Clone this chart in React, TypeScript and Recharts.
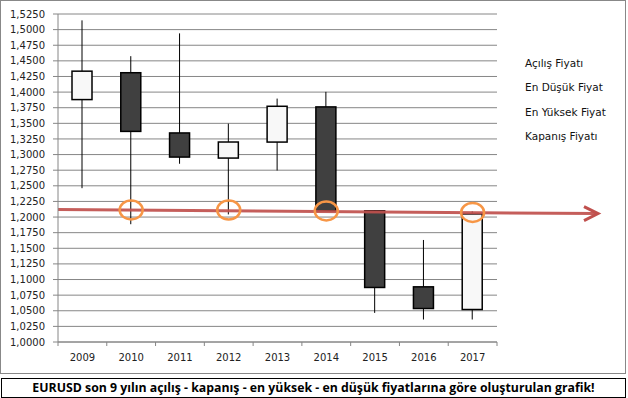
import React from 'react'
import { ComposedChart, Bar, XAxis, YAxis, CartesianGrid, ReferenceLine, ReferenceDot } from 'recharts'

const years = ['2009', '2010', '2011', '2012', '2013', '2014', '2015', '2016', '2017']
const openPrices = [1.388, 1.431, 1.3346, 1.2944, 1.32, 1.3763, 1.21, 1.0883, 1.052]
const highPrices = [1.5148, 1.4575, 1.494, 1.3495, 1.3896, 1.4004, 1.211, 1.1633, 1.209]
const lowPrices = [1.2462, 1.1885, 1.2853, 1.2042, 1.2745, 1.21, 1.0466, 1.036, 1.036]
const closePrices = [1.4335, 1.3371, 1.296, 1.3201, 1.3773, 1.21, 1.0873, 1.0536, 1.205]

const yTicks = [
  1.0, 1.025, 1.05, 1.075, 1.1, 1.125, 1.15, 1.175, 1.2, 1.225, 1.25,
  1.275, 1.3, 1.325, 1.35, 1.375, 1.4, 1.425, 1.45, 1.475, 1.5, 1.525,
]

const legendLabels = ['Açılış Fiyatı', 'En Düşük Fiyat', 'En Yüksek Fiyat', 'Kapanış Fiyatı']

// support level marked on the chart
const supportLevel = 1.2095
const markedYears = ['2010', '2012', '2014', '2017']
const markedLevels = [1.2114, 1.2112, 1.2098, 1.2074]

const data = years.map((year, i) => ({
  year,
  open: openPrices[i],
  high: highPrices[i],
  low: lowPrices[i],
  close: closePrices[i],
}))

const FONT = '"DejaVu Sans", Verdana, sans-serif'

const Candle = (props: any) => {
  const { x, y, width, height, payload } = props
  const top = Math.min(y, y + height)
  const h = Math.abs(height)
  const ratio = h / (payload.high - payload.low)
  const yOf = (v: number) => top + (payload.high - v) * ratio
  const up = payload.close >= payload.open
  const boxTop = yOf(Math.max(payload.open, payload.close))
  const boxBottom = yOf(Math.min(payload.open, payload.close))
  const cx = x + width / 2
  return (
    <g>
      <line x1={cx} x2={cx} y1={top} y2={top + h} stroke="#000" strokeWidth={1} />
      <rect
        x={x}
        y={boxTop}
        width={width}
        height={Math.max(boxBottom - boxTop, 1)}
        fill={up ? '#f8f8f8' : '#404040'}
        stroke="#000"
        strokeWidth={1.5}
      />
    </g>
  )
}

const YearTick = (props: any) => {
  const { x, y, payload, index } = props
  const half = payload.offset || 439 / 18
  const axisY = y - 12
  return (
    <g>
      <line x1={x - half} x2={x - half} y1={axisY} y2={axisY + 4} stroke="#868686" />
      {index === years.length - 1 && (
        <line x1={x + half} x2={x + half} y1={axisY} y2={axisY + 4} stroke="#868686" />
      )}
      <text x={x} y={y} dy="0.71em" textAnchor="middle" fill="#222" fontSize={10} fontFamily={FONT}>
        {payload.value}
      </text>
    </g>
  )
}

const Arrow = (props: any) => {
  const { x1, y1 } = props
  const endX = 597
  const endY = y1 + 2.5
  return (
    <g>
      <path d={`M${x1},${y1 - 1.5} L${endX - 1},${endY}`} stroke="#c0504d" strokeWidth={3} fill="none" opacity={0.92} />
      <path
        d={`M${endX - 14},${endY - 7} L${endX},${endY} L${endX - 14},${endY + 7}`}
        stroke="#c0504d"
        strokeWidth={3}
        fill="none"
      />
    </g>
  )
}

const Ring = (props: any) => {
  const { cx, cy } = props
  return <ellipse cx={cx} cy={cy} rx={11.5} ry={9.5} fill="none" stroke="#f79646" strokeWidth={2.5} />
}

export default function App() {
  return (
    <div style={{ position: 'absolute', left: 0, top: 0, width: 628, height: 398, background: '#fff' }}>
      <div
        style={{
          position: 'absolute',
          left: 0,
          top: 0,
          width: 626,
          height: 374,
          border: '1px solid #888',
          boxSizing: 'border-box',
        }}
      >
        <ComposedChart
          width={624}
          height={372}
          data={data}
          margin={{ top: 13, right: 128, left: 0, bottom: 0 }}
        >
          <CartesianGrid vertical={false} stroke="#868686" strokeWidth={1} />
          <XAxis
            dataKey="year"
            height={31}
            axisLine={{ stroke: '#868686' }}
            tickLine={false}
            tickSize={0}
            tickMargin={12}
            tick={<YearTick />}
            interval={0}
          />
          <YAxis
            width={57}
            domain={[1, 1.525]}
            ticks={yTicks}
            interval={0}
            axisLine={{ stroke: '#868686' }}
            tickLine={{ stroke: '#868686' }}
            tickSize={5}
            tickMargin={8}
            tickFormatter={(v: number) => v.toFixed(4).replace('.', ',')}
            tick={{ fill: '#222', fontSize: 10, fontFamily: FONT }}
          />
          <Bar
            dataKey={(d: any) => [d.low, d.high]}
            barSize={20}
            shape={<Candle />}
            isAnimationActive={false}
          />
          <ReferenceLine y={supportLevel} shape={<Arrow />} />
          {markedYears.map((yr, i) => (
            <ReferenceDot key={yr} x={yr} y={markedLevels[i]} r={10} shape={<Ring />} />
          ))}
        </ComposedChart>
        {legendLabels.map((label, i) => (
          <div
            key={label}
            style={{
              position: 'absolute',
              left: 524,
              top: 56 + i * 24.3,
              fontFamily: FONT,
              fontSize: 10.5,
              color: '#111',
              whiteSpace: 'nowrap',
            }}
          >
            {label}
          </div>
        ))}
      </div>
      <div
        style={{
          position: 'absolute',
          left: 1,
          top: 378,
          width: 625,
          height: 20,
          border: '1px solid #000',
          boxSizing: 'border-box',
          fontFamily: '"Open Sans", sans-serif',
          fontWeight: 'bold',
          fontSize: 12.3,
          lineHeight: '18px',
          textAlign: 'center',
          color: '#000',
          whiteSpace: 'nowrap',
        }}
      >
        EURUSD son 9 yılın açılış - kapanış - en yüksek - en düşük fiyatlarına göre oluşturulan grafik!
      </div>
    </div>
  )
}
